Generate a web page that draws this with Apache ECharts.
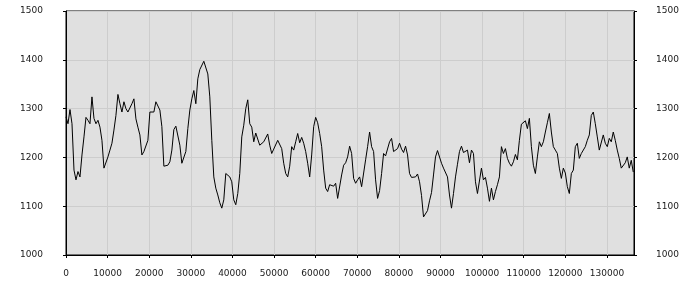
<!DOCTYPE html>
<html>
<head>
<meta charset="utf-8">
<script src="https://cdn.jsdelivr.net/npm/echarts@6/dist/echarts.min.js"></script>
<style>
html,body{margin:0;padding:0;background:#fff;}
#c{width:700px;height:300px;}
</style>
</head>
<body>
<div id="c"></div>
<script>
// sample spacing along x (data units)
const xStep = 480;
const yTicks = [1000, 1100, 1200, 1300, 1400, 1500];
const xTicks = [0, 10000, 20000, 30000, 40000, 50000, 60000, 70000, 80000, 90000, 100000, 110000, 120000, 130000];
const values1 = [1283,1269,1298,1269,1174,1154,1171,1160,1205,1242,1282,1276,1269,1324,1280,1269,1276,1262,1235,1178,1174,1201,1215,1229,1256,1286,1329,1310,1293,1314,1300,1293,1290,1310,1320,1279,1262,1246,1205,1212,1215,1235,1293,1296,1293,1314,1314];
const values2 = [1297,1263,1182,1178,1184,1191,1215,1257,1264,1264,1225,1188,1188,1212,1259,1297,1320,1337,1310,1361,1380,1382,1397,1399,1371,1324,1235,1160,1137,1123,1107,1096,1113,1167,1171,1160,1150,1113,1103,1126,1167,1242,1266,1300,1318,1269,1262];
const values3 = [1232,1250,1249,1225,1222,1232,1235,1248,1225,1208,1217,1217,1235,1239,1218,1188,1167,1160,1182,1222,1215,1232,1249,1230,1241,1229,1212,1188,1160,1205,1263,1282,1271,1249,1222,1174,1137,1130,1144,1148,1141,1147,1116,1120,1164,1184,1189,1201];
const values4 = [1223,1208,1157,1147,1154,1160,1140,1137,1195,1222,1252,1222,1212,1154,1116,1132,1167,1208,1203,1205,1232,1239,1212,1208,1218,1229,1217,1210,1223,1205,1167,1159,1162,1160,1166,1150,1122,1078,1076,1091,1111,1128,1164,1201,1214,1212,1188,1178];
const values5 = [1180,1160,1123,1096,1126,1160,1186,1212,1223,1210,1210,1215,1189,1215,1208,1150,1126,1126,1178,1154,1159,1137,1110,1137,1113,1130,1144,1160,1222,1208,1218,1198,1188,1182,1191,1206,1195,1235,1268,1269,1275,1259,1280,1222,1184,1167,1201];
const values6 = [1232,1222,1232,1252,1271,1290,1252,1222,1215,1208,1178,1157,1178,1168,1140,1126,1167,1174,1222,1229,1198,1208,1205,1222,1235,1246,1286,1293,1269,1242,1215,1212,1246,1229,1222,1239,1232,1252,1235,1215,1198,1178,1181,1189,1201,1178,1194,1170];

const yValues = [].concat(values1, values2, values3, values4, values5, values6);
const seriesData = yValues.map((v, i) => [i * xStep, v]);

const font = 'DejaVu Sans';
const textColor = '#1a1a1a';

const chart = echarts.init(document.getElementById('c'), null, {renderer: 'canvas'});
const yAxisBase = {
  type: 'value',
  min: yTicks[0],
  max: yTicks[yTicks.length - 1],
  interval: 100,
  axisLine: {show: true, lineStyle: {color: '#000', width: 1}},
  axisTick: {show: true, length: 3, lineStyle: {color: '#000'}},
  axisLabel: {color: textColor, fontFamily: font, fontSize: 9, formatter: v => String(v)}
};
chart.setOption({
  animation: false,
  backgroundColor: '#fff',
  grid: {
    left: 66, right: 66, top: 11, bottom: 45,
    containLabel: false,
    show: true,
    backgroundColor: '#e0e0e0',
    borderColor: '#000',
    borderWidth: 1
  },
  xAxis: {
    type: 'value',
    min: 0,
    max: 136500,
    interval: 10000,
    axisLine: {show: true, onZero: false, lineStyle: {color: '#000', width: 1}},
    axisTick: {show: true, length: 3, lineStyle: {color: '#000'}},
    axisLabel: {
      color: textColor, fontFamily: font, fontSize: 9, margin: 14,
      showMaxLabel: false,
      formatter: v => (xTicks.indexOf(v) >= 0 ? String(v) : '')
    },
    splitLine: {show: true, lineStyle: {color: '#cdcdcd', width: 1}}
  },
  yAxis: [
    Object.assign({}, yAxisBase, {
      position: 'left',
      axisLabel: Object.assign({}, yAxisBase.axisLabel, {margin: 23}),
      splitLine: {show: true, lineStyle: {color: '#cdcdcd', width: 1}}
    }),
    Object.assign({}, yAxisBase, {
      position: 'right',
      axisLabel: Object.assign({}, yAxisBase.axisLabel, {margin: 22}),
      splitLine: {show: false}
    })
  ],
  series: [{
    type: 'line',
    data: seriesData,
    showSymbol: false,
    symbol: 'none',
    lineStyle: {color: '#000', width: 1},
    silent: true
  }]
});
</script>
</body>
</html>
